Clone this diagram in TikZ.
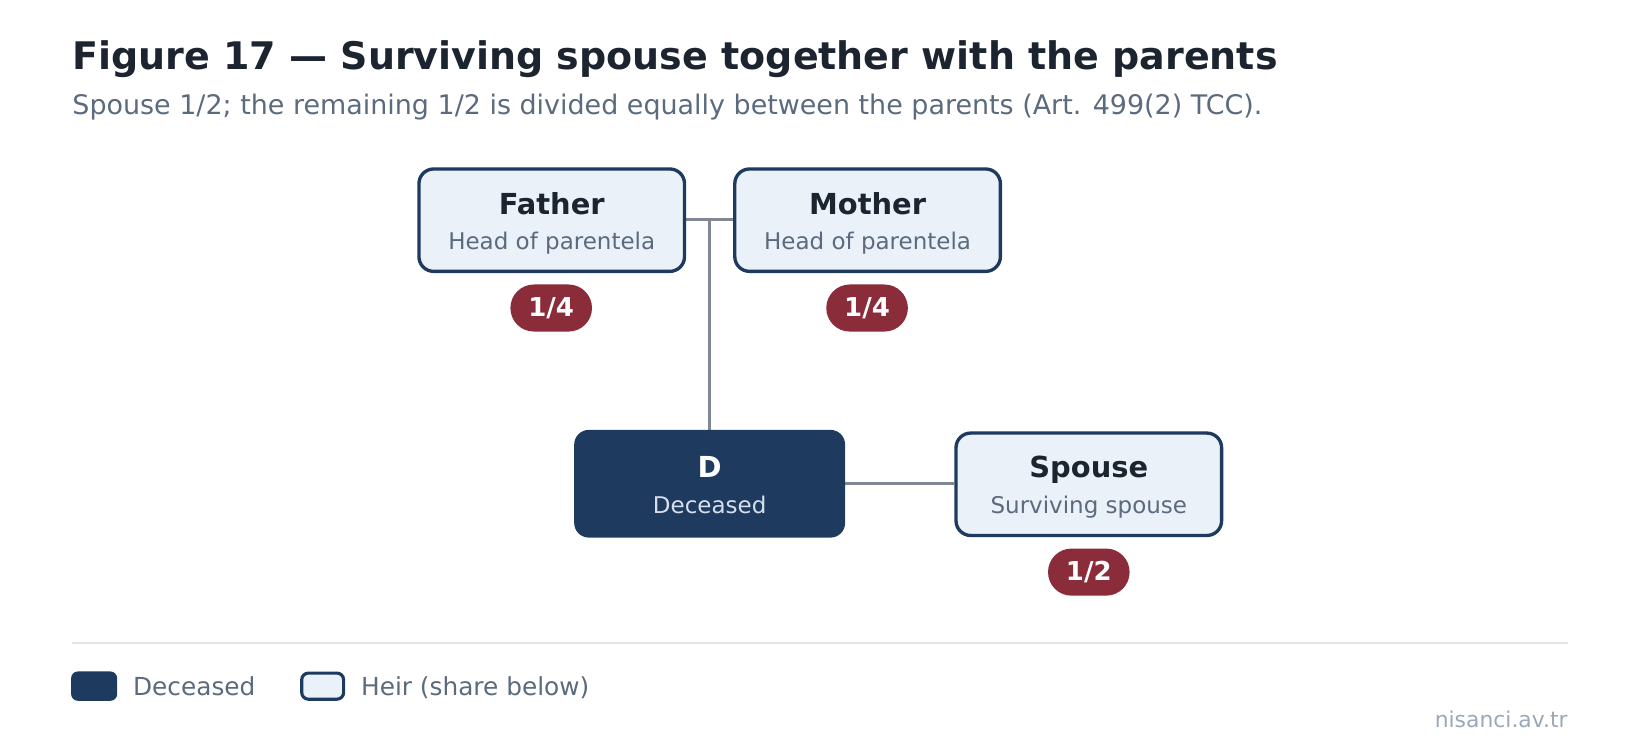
\documentclass[tikz,border=0pt]{standalone}
\usepackage{fontspec}
\setmainfont{DejaVu Sans}
\definecolor{navy}{HTML}{1F3A5F}
\definecolor{heirfill}{HTML}{EAF1F9}
\definecolor{titlec}{HTML}{1C2430}
\definecolor{subc}{HTML}{5B6B7D}
\definecolor{linec}{HTML}{7F8893}
\definecolor{badgec}{HTML}{8B2C3A}
\definecolor{sepc}{HTML}{E1E5EA}
\definecolor{credc}{HTML}{9AA8B8}
\definecolor{decsub}{HTML}{D6E0EC}
\pgfdeclarelayer{bg}
\pgfsetlayers{bg,main}
\begin{document}
\begin{tikzpicture}[x=0.7845pt,y=-0.7845pt,
  heir/.style={draw=navy,line width=2.5pt,fill=heirfill,rounded corners=11pt,minimum width=199.2pt,minimum height=76.8pt,inner sep=0pt},
  dec/.style={fill=navy,rounded corners=11pt,minimum width=203.2pt,minimum height=80.8pt,inner sep=0pt},
  lbl/.style={font=\fontsize{21.7}{26}\selectfont\bfseries,text=titlec,inner sep=0pt,anchor=base},
  sub/.style={font=\fontsize{17.25}{21}\selectfont,text=subc,inner sep=0pt,anchor=base},
  badge/.style={fill=badgec,rounded corners=17.6pt,minimum width=61.2pt,minimum height=35.3pt,inner sep=0pt,text=white,font=\fontsize{19.5}{23}\selectfont\bfseries},
  conn/.style={draw=linec,line width=2.35pt},
  legtext/.style={anchor=base west,inner sep=0pt,text=subc,font=\fontsize{18.6}{22}\selectfont}]
\useasboundingbox (0,0) rectangle (1568,719);
\node[anchor=base west,inner sep=0pt,text=titlec,font=\fontsize{28.5}{34}\selectfont\bfseries] (title) at (69,66) {Figure 17 — Surviving spouse together with the parents};
\node[anchor=base west,inner sep=0pt,text=subc,font=\fontsize{20.2}{24}\selectfont] (subtitle) at (69,109) {Spouse 1/2; the remaining 1/2 is divided equally between the parents (Art. 499(2) TCC).};
% boxes
\node[heir] (father) at (527.5,210.5) {};
\node[heir] (mother) at (829.5,210.5) {};
\node[dec] (d) at (678.5,462.5) {};
\node[heir] (spouse) at (1041,463) {};
\coordinate (j) at (678.5,210);
\begin{pgfonlayer}{bg}
\draw[conn] (father.east |- j) -- (mother.west |- j);
\draw[conn] (j) -- (d.north);
\draw[conn] (d.east |- 0,462) -- (spouse.west |- 0,462);
\end{pgfonlayer}
\node[lbl] (ft) at (527.5,205) {Father};
\node[sub] (fs) at (527.5,239) {Head of parentela};
\node[lbl] (mt) at (829.5,205) {Mother};
\node[sub] (ms) at (829.5,239) {Head of parentela};
\node[lbl,text=white] (dt) at (678.5,457) {D};
\node[sub,text=decsub] (ds) at (678.5,491) {Deceased};
\node[lbl] (st) at (1041,457) {Spouse};
\node[sub] (ss) at (1041,491) {Surviving spouse};
\node[badge] (fb) at (527,294.5) {1/4};
\node[badge] (mb) at (829,294.5) {1/4};
\node[badge] (sb) at (1041,547) {1/2};
% separator and legend
\draw[draw=sepc,line width=1.5pt] (69,615) -- (1499,615);
\node[fill=navy,rounded corners=5pt,minimum width=34.5pt,minimum height=22pt,inner sep=0pt] (lg1) at (90,656) {};
\node[legtext] (lg1t) at (127,665) {Deceased};
\node[draw=navy,line width=2.35pt,fill=heirfill,rounded corners=5pt,minimum width=31.4pt,minimum height=19.6pt,inner sep=0pt] (lg2) at (308.5,656) {};
\node[legtext] (lg2t) at (345,665) {Heir (share below)};
\node[anchor=base east,inner sep=0pt,text=credc,font=\fontsize{16.4}{20}\selectfont] (cred) at (1499,696) {nisanci.av.tr};
\end{tikzpicture}
\end{document}
